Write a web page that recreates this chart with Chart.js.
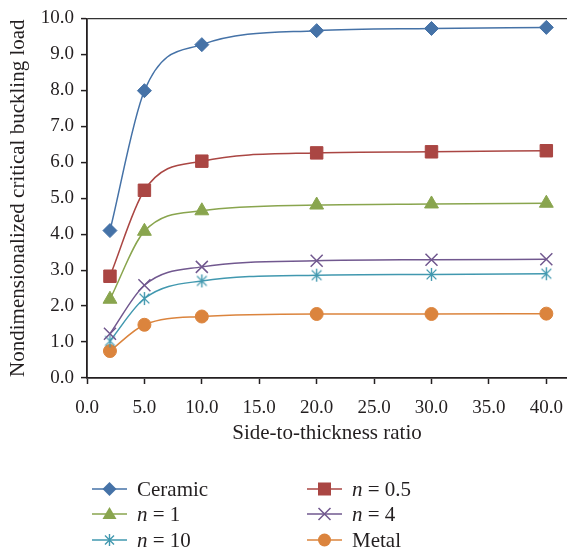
<!DOCTYPE html>
<html><head><meta charset="utf-8">
<script src="https://cdn.jsdelivr.net/npm/chart.js@4/dist/chart.umd.min.js"></script>
<style>
html,body{margin:0;padding:0;background:#fff;}
#wrap{position:relative;width:567px;height:552px;overflow:hidden;}
#legend{position:absolute;left:0;top:0;width:567px;height:552px;font-family:'Liberation Serif',serif;font-size:21px;color:#231f20;pointer-events:none;}
.item{position:absolute;height:24px;display:flex;align-items:center;white-space:nowrap;}
.item svg{margin-right:10px;}
</style></head><body>
<div id="wrap"><canvas id="c" width="567" height="552"></canvas><div id="legend"></div></div>
<script>
// ---- data ----
const ratios  = [2, 5, 10, 20, 30, 40];
const ceramic = [4.10, 7.99, 9.27, 9.66, 9.72, 9.75];
const n05     = [2.83, 5.22, 6.03, 6.26, 6.29, 6.32];
const n1      = [2.19, 4.08, 4.65, 4.81, 4.84, 4.86];
const n4      = [1.23, 2.58, 3.09, 3.26, 3.29, 3.30];
const n10     = [1.03, 2.21, 2.70, 2.86, 2.88, 2.90];
const metal   = [0.75, 1.48, 1.71, 1.78, 1.78, 1.79];
const seriesNames = ['Ceramic', 'n = 0.5', 'n = 1', 'n = 4', 'n = 10', 'Metal'];
const xTickValues = [0, 5, 10, 15, 20, 25, 30, 35, 40];
const yTickValues = [0, 1, 2, 3, 4, 5, 6, 7, 8, 9, 10];
const xTitle = 'Side-to-thickness ratio';
const yTitle = 'Nondimensionalized critical buckling load';

// ---- styling ----
const colors = ['#4572A7', '#AA4643', '#89A54E', '#71588F', '#4198AF', '#DB843D'];
const FONT = "'Liberation Serif', serif";
const INK = '#231f20';

function starCanvas(color, size) {
  const c = document.createElement('canvas');
  c.width = c.height = size;
  const g = c.getContext('2d');
  g.strokeStyle = color; g.lineWidth = 1.4;
  const h = size / 2, r = size / 2 - 1, d = r * 0.75;
  g.beginPath();
  g.moveTo(h, h - r); g.lineTo(h, h + r);
  g.moveTo(h - d, h - d); g.lineTo(h + d, h + d);
  g.moveTo(h + d, h - d); g.lineTo(h - d, h + d);
  g.stroke();
  return c;
}

const allSeries = [ceramic, n05, n1, n4, n10, metal];
const styles = [
  {pointStyle: 'rectRot', radius: 7},
  {pointStyle: 'rect', radius: 8.8},
  {pointStyle: 'triangle', radius: 8},
  {pointStyle: 'crossRot', radius: 8.5},
  {pointStyle: starCanvas(colors[4], 15), radius: 7},
  {pointStyle: 'circle', radius: 6.5}
];

const datasets = allSeries.map((vals, i) => ({
  label: seriesNames[i],
  data: ratios.map((x, k) => ({x: x, y: vals[k]})),
  borderColor: colors[i],
  backgroundColor: colors[i],
  borderWidth: 1.5,
  pointStyle: styles[i].pointStyle,
  pointRadius: styles[i].radius,
  pointHoverRadius: styles[i].radius,
  pointBorderWidth: i === 3 ? 1.5 : 1,
  pointBorderColor: colors[i],
  pointBackgroundColor: colors[i],
  cubicInterpolationMode: 'monotone',
  fill: false
}));

new Chart(document.getElementById('c'), {
  type: 'line',
  data: {datasets},
  options: {
    responsive: false,
    animation: false,
    events: [],
    layout: {autoPadding: false, padding: {top: 15, right: 0, bottom: 106, left: 0}},
    plugins: {legend: {display: false}, tooltip: {enabled: false}},
    scales: {
      x: {
        type: 'linear', min: 0, max: 41.8,
        afterBuildTicks: s => { s.ticks = xTickValues.map(v => ({value: v})); },
        afterFit: s => { s.height = 68; s.paddingRight = 0; s.paddingLeft = 0; },
        ticks: {autoSkip: false, maxRotation: 0, padding: 13, color: INK,
                font: {family: FONT, size: 19}, callback: v => Number(v).toFixed(1)},
        grid: {drawOnChartArea: false, drawTicks: true, tickLength: 6, tickColor: INK, tickWidth: 1.5},
        border: {color: INK, width: 1.8},
        title: {display: true, text: xTitle, color: INK, font: {family: FONT, size: 21}, padding: {top: 0, bottom: 0}}
      },
      y: {
        type: 'linear', min: 0, max: 10,
        afterBuildTicks: s => { s.ticks = yTickValues.map(v => ({value: v})); },
        afterFit: s => { s.width = 87; },
        ticks: {padding: 7, color: INK, font: {family: FONT, size: 19}, callback: v => Number(v).toFixed(1)},
        grid: {drawOnChartArea: true, drawTicks: true, tickLength: 6, tickColor: INK, tickWidth: 1.5,
               color: ctx => (ctx.tick && ctx.tick.value === 10) ? '#333' : 'rgba(0,0,0,0)', lineWidth: 1.2},
        border: {color: INK, width: 1.8},
        title: {display: true, text: yTitle, color: INK, font: {family: FONT, size: 21}, padding: {top: 6, bottom: 0}}
      }
    }
  }
});

// ---- HTML legend ----
function markerSvg(i) {
  const c = colors[i];
  let m = '';
  const cx = 17.5, cy = 12;
  if (i === 0) m = `<polygon points="${cx},${cy-7} ${cx+7},${cy} ${cx},${cy+7} ${cx-7},${cy}" fill="${c}"/>`;
  if (i === 1) m = `<rect x="${cx-6.5}" y="${cy-6.5}" width="13" height="13" fill="${c}"/>`;
  if (i === 2) m = `<polygon points="${cx},${cy-7} ${cx+7},${cy+5} ${cx-7},${cy+5}" fill="${c}"/>`;
  if (i === 3) m = `<path d="M${cx-6} ${cy-6}L${cx+6} ${cy+6}M${cx+6} ${cy-6}L${cx-6} ${cy+6}" stroke="${c}" stroke-width="1.5"/>`;
  if (i === 4) m = `<path d="M${cx} ${cy-6}L${cx} ${cy+6}M${cx-4.5} ${cy-4.5}L${cx+4.5} ${cy+4.5}M${cx+4.5} ${cy-4.5}L${cx-4.5} ${cy+4.5}" stroke="${c}" stroke-width="1.4"/>`;
  if (i === 5) m = `<circle cx="${cx}" cy="${cy}" r="6.5" fill="${c}"/>`;
  return `<svg width="35" height="24" viewBox="0 0 35 24"><line x1="0" y1="12" x2="35" y2="12" stroke="${c}" stroke-width="1.5"/>${m}</svg>`;
}
function labelHtml(name) {
  return name.replace(/^n /, '<i>n</i> ');
}
const legendPos = [[92, 489], [307, 489], [92, 514], [307, 514], [92, 540], [307, 540]];
const lg = document.getElementById('legend');
seriesNames.forEach((name, i) => {
  const d = document.createElement('div');
  d.className = 'item';
  d.style.left = legendPos[i][0] + 'px';
  d.style.top = (legendPos[i][1] - 12) + 'px';
  d.innerHTML = markerSvg(i) + '<span>' + labelHtml(name) + '</span>';
  lg.appendChild(d);
});
</script>
</body></html>
